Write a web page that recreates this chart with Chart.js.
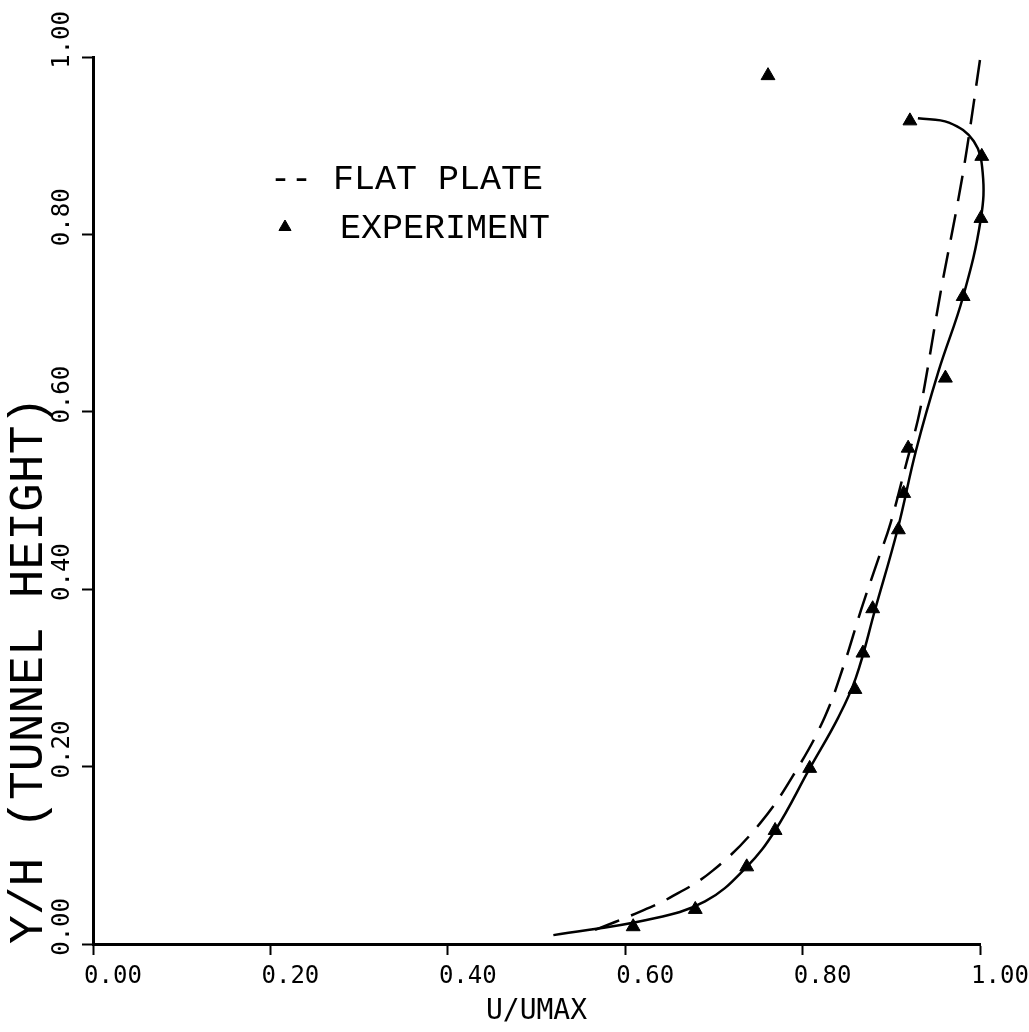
<!DOCTYPE html>
<html><head><meta charset="utf-8">
<script src="https://cdn.jsdelivr.net/npm/chart.js@4.4.0/dist/chart.umd.min.js"></script>
<style>html,body{margin:0;padding:0;background:#fff;}canvas{display:block;}</style>
</head><body>
<canvas id="c" width="1029" height="1032"></canvas>
<script>
// ---- data ----
const xTickValues = [0, 0.2, 0.4, 0.6, 0.8, 1.0];
const yTickValues = [0, 0.2, 0.4, 0.6, 0.8, 1.0];
const xTitle = 'U/UMAX';
const yTitle = 'Y/H (TUNNEL HEIGHT)';
const legendLabels = ['FLAT PLATE', 'EXPERIMENT'];

// flat plate (dashed)
const flatU = [0.566, 0.611, 0.650, 0.699, 0.752, 0.793, 0.825, 0.847, 0.866, 0.885, 0.899, 0.917, 0.930, 0.938, 0.956, 0.974, 0.985, 1.000];
const flatY = [0.016, 0.034, 0.052, 0.083, 0.136, 0.196, 0.256, 0.316, 0.377, 0.433, 0.474, 0.542, 0.591, 0.632, 0.737, 0.831, 0.895, 0.997];

// fitted curve through experiment (solid)
const fitU = [0.519, 0.624, 0.690, 0.737, 0.769, 0.808, 0.840, 0.860, 0.882, 0.907, 0.928, 0.953, 0.981, 1.001, 1.003, 0.993, 0.965, 0.930];
const fitY = [0.010, 0.027, 0.048, 0.087, 0.128, 0.198, 0.255, 0.300, 0.378, 0.467, 0.557, 0.645, 0.730, 0.818, 0.870, 0.905, 0.926, 0.931];

// experiment (triangles)
const expU = [0.609, 0.679, 0.737, 0.769, 0.808, 0.859, 0.868, 0.879, 0.908, 0.914, 0.919, 0.961, 0.981, 1.001, 1.002, 0.921, 0.761];
const expY = [0.0195, 0.039, 0.087, 0.128, 0.198, 0.287, 0.328, 0.378, 0.467, 0.508, 0.559, 0.638, 0.730, 0.818, 0.888, 0.928, 0.979];

// ---- chart ----
const FONT = "'DejaVu Sans Mono', 'Liberation Mono', monospace";
const TITLE_FONT = "'Liberation Mono', 'DejaVu Sans Mono', monospace";
const toXY = (us, ys) => us.map((u, i) => ({x: u, y: ys[i]}));
const fmt = v => Number(v).toFixed(2);

const legendPlugin = {
  id: 'plotLegend',
  afterDraw(chart) {
    const ctx = chart.ctx;
    ctx.save();
    ctx.fillStyle = '#000';
    ctx.strokeStyle = '#000';
    ctx.font = '35px ' + TITLE_FONT;
    ctx.textBaseline = 'alphabetic';
    ctx.textAlign = 'left';
    ctx.fillText('-- ' + legendLabels[0], 270, 189);
    Chart.helpers.drawPoint(ctx, {pointStyle: 'triangle', radius: 7, borderWidth: 1, rotation: 0}, 285, 227);
    ctx.fillText(legendLabels[1], 340, 238);
    ctx.restore();
  }
};

new Chart(document.getElementById('c'), {
  type: 'scatter',
  data: {
    datasets: [
      {label: legendLabels[0], data: toXY(flatU, flatY), showLine: true, borderColor: '#000', borderWidth: 2.5,
       borderDash: [26, 13], pointRadius: 0, pointHoverRadius: 0, tension: 0.4, clip: false, fill: false},
      {label: 'fit', data: toXY(fitU, fitY), showLine: true, borderColor: '#000', borderWidth: 2.5,
       pointRadius: 0, pointHoverRadius: 0, tension: 0.4, clip: false, fill: false},
      {label: legendLabels[1], data: toXY(expU, expY), showLine: false, pointStyle: 'triangle', pointRadius: 8,
       pointHoverRadius: 8, pointBackgroundColor: '#000', pointBorderColor: '#000', pointBorderWidth: 1, clip: false}
    ]
  },
  options: {
    responsive: false,
    animation: false,
    events: [],
    layout: {padding: {top: 57, right: 49, left: 0, bottom: 0}},
    plugins: {legend: {display: false}, tooltip: {enabled: false}},
    scales: {
      x: {
        type: 'linear', position: 'bottom', min: 0, max: 1,
        afterBuildTicks: s => { s.ticks = xTickValues.map(v => ({value: v})); },
        afterFit: s => { s.height = 88; },
        grid: {drawOnChartArea: false, drawTicks: true, tickLength: 11, tickWidth: 2, color: '#000'},
        border: {display: true, color: '#000', width: 3},
        ticks: {color: '#000', font: {family: FONT, size: 24}, padding: 7, labelOffset: 20,
                minRotation: 0, maxRotation: 0, autoSkip: false, callback: fmt},
        title: {display: true, text: xTitle, color: '#000', font: {family: FONT, size: 28}, padding: {top: 0, bottom: 3}}
      },
      y: {
        type: 'linear', position: 'left', min: 0, max: 1,
        afterBuildTicks: s => { s.ticks = yTickValues.map(v => ({value: v})); },
        afterFit: s => { s.width = 93; },
        grid: {drawOnChartArea: false, drawTicks: true, tickLength: 11, tickWidth: 2, color: '#000'},
        border: {display: true, color: '#000', width: 3},
        ticks: {color: '#000', font: {family: FONT, size: 24}, padding: 19, labelOffset: -46,
                minRotation: 90, maxRotation: 90, crossAlign: 'near', autoSkip: false, callback: fmt},
        title: {display: true, text: yTitle, color: '#000', align: 'start', font: {family: TITLE_FONT, size: 48}, padding: {top: 0, bottom: 0}}
      }
    }
  },
  plugins: [legendPlugin]
});
</script>
</body></html>
